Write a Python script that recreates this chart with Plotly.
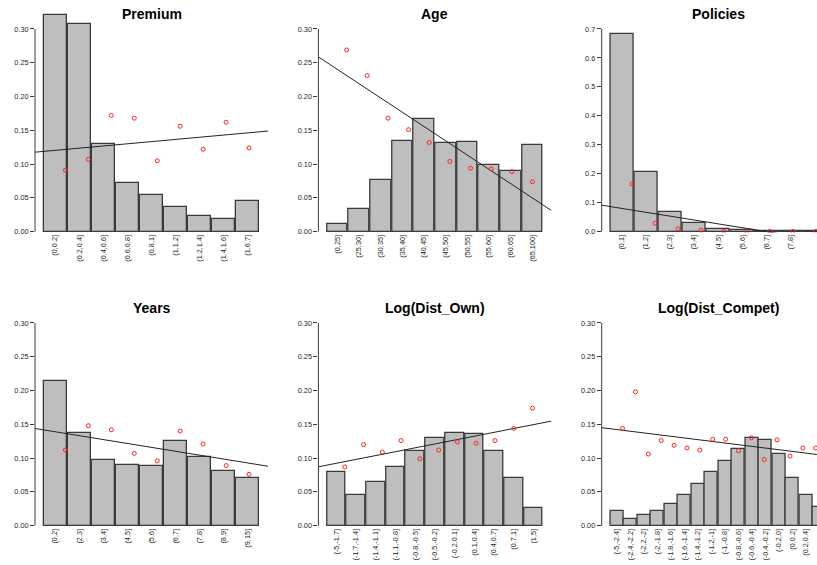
import numpy as np
import plotly.graph_objects as go

# ---------------- data ----------------
premium_labels = ["(0,0.2]", "(0.2,0.4]", "(0.4,0.6]", "(0.6,0.8]", "(0.8,1]",
                  "(1,1.2]", "(1.2,1.4]", "(1.4,1.6]", "(1.6,7]"]
premium_bars = [0.320, 0.307, 0.129, 0.072, 0.054, 0.037, 0.023, 0.018, 0.045]
premium_pts = [0.091, 0.107, 0.172, 0.168, 0.105, 0.156, 0.122, 0.162, 0.124]

age_labels = ["(0,25]", "(25,30]", "(30,35]", "(35,40]", "(40,45]", "(45,50]",
              "(50,55]", "(55,60]", "(60,65]", "(65,100]"]
age_bars = [0.011, 0.034, 0.076, 0.134, 0.167, 0.131, 0.133, 0.098, 0.090, 0.128]
age_pts = [0.269, 0.231, 0.168, 0.151, 0.132, 0.104, 0.094, 0.093, 0.089, 0.074]

policies_labels = ["(0,1]", "(1,2]", "(2,3]", "(3,4]", "(4,5]", "(5,6]",
                   "(6,7]", "(7,8]", "(8,15]"]
policies_bars = [0.682, 0.207, 0.066, 0.029, 0.010, 0.007, 0.002, 0.002, 0.001]
policies_pts = [0.165, 0.029, 0.010, 0.005, 0.002, 0.001, 0.001, 0.001, 0.001]

years_labels = ["(0,2]", "(2,3]", "(3,4]", "(4,5]", "(5,6]", "(6,7]",
                "(7,8]", "(8,9]", "(9,15]"]
years_bars = [0.214, 0.137, 0.097, 0.090, 0.088, 0.125, 0.101, 0.081, 0.070]
years_pts = [0.112, 0.148, 0.142, 0.107, 0.096, 0.140, 0.121, 0.089, 0.076]

own_labels = ["(-5,-1.7]", "(-1.7,-1.4]", "(-1.4,-1.1]", "(-1.1,-0.8]",
              "(-0.8,-0.5]", "(-0.5,-0.2]", "(-0.2,0.1]", "(0.1,0.4]",
              "(0.4,0.7]", "(0.7,1]", "(1,5]"]
own_bars = [0.080, 0.045, 0.065, 0.087, 0.111, 0.130, 0.137, 0.135, 0.111, 0.071, 0.026]
own_pts = [0.087, 0.120, 0.109, 0.126, 0.099, 0.112, 0.124, 0.122, 0.126, 0.144, 0.174]

compet_labels = ["(-5,-2.4]", "(-2.4,-2.2]", "(-2.2,-2]", "(-2,-1.8]",
                 "(-1.8,-1.6]", "(-1.6,-1.4]", "(-1.4,-1.2]", "(-1.2,-1]",
                 "(-1,-0.8]", "(-0.8,-0.6]", "(-0.6,-0.4]", "(-0.4,-0.2]",
                 "(-0.2,0]", "(0,0.2]", "(0.2,0.4]", "(0.4,3]"]
compet_bars = [0.022, 0.010, 0.016, 0.021, 0.032, 0.046, 0.061, 0.080, 0.096,
               0.114, 0.129, 0.126, 0.106, 0.070, 0.045, 0.028]
compet_pts = [0.144, 0.198, 0.106, 0.126, 0.119, 0.115, 0.112, 0.128, 0.128,
              0.111, 0.130, 0.098, 0.127, 0.103, 0.115, 0.115]

titles = ["Premium", "Age", "Policies", "Years", "Log(Dist_Own)", "Log(Dist_Compet)"]
all_labels = [premium_labels, age_labels, policies_labels, years_labels, own_labels, compet_labels]
all_bars = [premium_bars, age_bars, policies_bars, years_bars, own_bars, compet_bars]
all_pts = [premium_pts, age_pts, policies_pts, years_pts, own_pts, compet_pts]
y_tops = [0.30, 0.30, 0.70, 0.30, 0.30, 0.30]
y_steps = [0.05, 0.05, 0.10, 0.05, 0.05, 0.05]
y_fmts = ["{:.2f}", "{:.2f}", "{:.1f}", "{:.2f}", "{:.2f}", "{:.2f}"]

# ---------------- layout geometry (pixels) ----------------
W, H = 817, 565
col_left = [35.0, 318.4, 601.7]
row_zero = [231.7, 525.7]
plot_w = 233.0
tick_span_px = 202.7
space = 0.05
FONT = "Liberation Sans, Arial, sans-serif"
EDGE = "#3a3a3a"
TXT = "#1e1e1e"

fig = go.Figure()
layout = dict(
    width=W, height=H, margin=dict(l=0, r=0, t=0, b=0),
    paper_bgcolor="white", plot_bgcolor="white", showlegend=False,
    font=dict(family=FONT, color=TXT, size=7.3),
    bargap=0, annotations=[], shapes=[],
)

for k in range(6):
    row, col = divmod(k, 3)
    labels, bars, pts = all_labels[k], all_bars[k], all_pts[k]
    n = len(bars)
    idx = np.arange(1, n + 1)
    centers = idx * (1 + space) - 0.5
    xlo, xhi = space, n * (1 + space)
    ext = 0.04 * (xhi - xlo)
    r0, r1 = xlo - ext, xhi + ext
    left = col_left[col]
    right = left + plot_w
    vr1 = r1
    if right > W:
        vr1 = r0 + (W - left) / plot_w * (r1 - r0)
        right = W

    top = y_tops[k]
    ppu = tick_span_px / top
    ylo, yhi = -0.004 * top, 1.0833 * top
    zero = row_zero[row]
    dom_bottom_px = zero - ylo * ppu
    dom_top_px = zero - yhi * ppu

    sfx = "" if k == 0 else str(k + 1)
    xa, ya = "x" + sfx, "y" + sfx

    fig.add_trace(go.Bar(
        x=centers, y=bars, width=1.0, xaxis=xa, yaxis=ya,
        marker=dict(color="#BEBEBE", line=dict(color=EDGE, width=1.3)),
    ))
    slope, icpt = np.polyfit(idx, pts, 1)
    lx = np.array([r0, r1])
    fig.add_trace(go.Scatter(
        x=lx, y=icpt + slope * lx, mode="lines", xaxis=xa, yaxis=ya,
        line=dict(color="#222222", width=1),
    ))
    fig.add_trace(go.Scatter(
        x=idx, y=pts, mode="markers", xaxis=xa, yaxis=ya,
        marker=dict(symbol="circle-open", color="#FF2020", size=4, line=dict(width=1)),
    ))

    tv = np.round(np.arange(0, top + 1e-9, y_steps[k]), 4)
    layout["xaxis" + sfx] = dict(
        domain=[left / W, right / W], range=[r0, vr1], anchor=ya,
        tickvals=centers, ticktext=labels, tickangle=-90, ticks="",
        showgrid=False, zeroline=False, showline=False, automargin=False,
        tickfont=dict(size=7.3, color=TXT, family=FONT),
    )
    layout["yaxis" + sfx] = dict(
        domain=[1 - dom_bottom_px / H, 1 - dom_top_px / H], range=[ylo, yhi],
        anchor=xa, tickvals=tv, ticktext=[y_fmts[k].format(v) for v in tv],
        ticks="outside", ticklen=4, tickwidth=1, tickcolor=EDGE,
        showgrid=False, zeroline=False, showline=False, automargin=False,
        tickfont=dict(size=7.3, color=TXT, family=FONT),
    )
    # R-style axis line spanning only the tick range
    layout["shapes"].append(dict(
        type="line", xref="paper", yref="paper",
        x0=left / W, x1=left / W,
        y0=1 - zero / H, y1=1 - (zero - tick_span_px) / H,
        line=dict(color=EDGE, width=1),
    ))
    layout["annotations"].append(dict(
        text="<b>" + titles[k] + "</b>", xref="paper", yref="paper",
        x=(left + plot_w / 2) / W, y=1 - (zero - 218.0) / H,
        xanchor="center", yanchor="middle", showarrow=False,
        font=dict(size=14, color="black", family=FONT),
    ))

fig.update_layout(**layout)
fig.write_html("out.html")
